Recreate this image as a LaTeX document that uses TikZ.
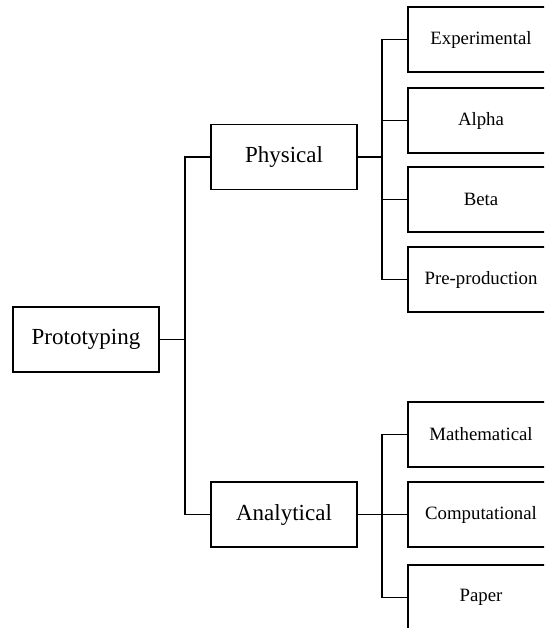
\documentclass[tikz,border=0pt]{standalone}
\usepackage{fontspec}
\setmainfont{Liberation Serif}
\begin{document}
\begin{tikzpicture}[x=1pt,y=-1pt,
  box/.style={draw=black,line width=1.2pt,rectangle,inner sep=0pt,
    minimum width=146pt,minimum height=65pt},
  bigbox/.style={box,font=\fontsize{23}{27}\selectfont},
  leafbox/.style={box,font=\fontsize{18.8}{22}\selectfont},
  link/.style={draw=black,line width=1.2pt}]
\useasboundingbox (0,0) rectangle (544,628);
\clip (0,0) rectangle (544,628);

% root and second level
\node[bigbox] (proto) at (86,339.5) {Prototyping};
\node[bigbox] (phys)  at (284,157)  {Physical};
\node[bigbox] (anal)  at (284,514.5) {Analytical};

% leaves
\node[leafbox] (exp)   at (481,39.5)  {Experimental};
\node[leafbox] (alpha) at (481,120.5) {Alpha};
\node[leafbox] (beta)  at (481,199.5) {Beta};
\node[leafbox] (pre)   at (481,279.5) {Pre-production};
\node[leafbox] (math)  at (481,434.5) {Mathematical};
\node[leafbox] (comp)  at (481,514.5) {Computational};
\node[leafbox] (paper) at (481,597.5) {Paper};

% junction points of the bracket connectors
\coordinate (j0) at (185,339.5);
\coordinate (j1) at (382,157);
\coordinate (j2) at (382,514.5);

\draw[link] (proto.east) -- (j0);
\draw[link] (j0) |- (phys.west);
\draw[link] (j0) |- (anal.west);

\draw[link] (phys.east) -- (j1);
\draw[link] (j1) |- (exp.west);
\draw[link] (j1) |- (alpha.west);
\draw[link] (j1) |- (beta.west);
\draw[link] (j1) |- (pre.west);

\draw[link] (anal.east) -- (j2);
\draw[link] (j2) |- (math.west);
\draw[link] (j2) |- (comp.west);
\draw[link] (j2) |- (paper.west);
\end{tikzpicture}
\end{document}
